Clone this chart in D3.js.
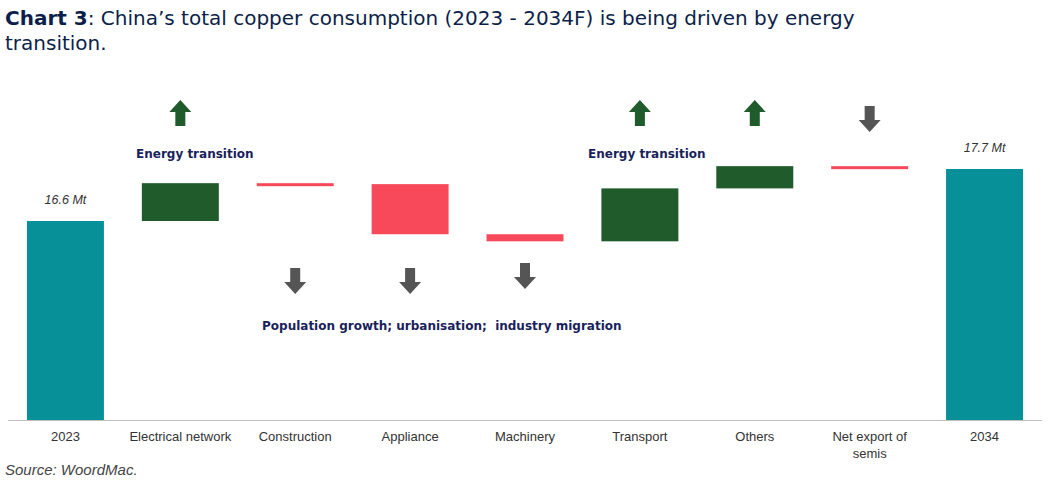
<!DOCTYPE html><html><head><meta charset="utf-8"><script src="https://cdn.jsdelivr.net/npm/d3@7"></script>
<style>body{margin:0;background:#fff;font-family:"Liberation Sans",Arial,sans-serif}</style></head><body>
<svg id="c" width="1056" height="497"></svg>
<script>
const categories=["2023","Electrical network","Construction","Appliance","Machinery","Transport","Others","Net export of semis","2034"];
const changes=[16.6,0.80,-0.02,-1.06,-0.15,1.12,0.47,-0.06,17.7];
const totalLabels=["16.6 Mt","17.7 Mt"];
const arrows=[null,"up",  "down","down","down","up","up","down",null];

const svg=d3.select("#c");
const x=d3.scaleBand().domain(categories).range([8,1042]).paddingInner(0.33).paddingOuter(0.165);
const y=d3.scaleLinear().domain([12.39,17.7]).range([420,169]);
let run=0;const bars=changes.map((v,i)=>{
 if(i===0||i===changes.length-1){run=v;return{c:categories[i],a:y.domain()[0],b:v,col:"#079097",tot:true};}
 const s=run;run+=v;return{c:categories[i],a:s,b:run,col:v>=0?"#1f5b2b":"#f8495a"};});
svg.selectAll("rect.bar").data(bars).join("rect").attr("x",d=>x(d.c)).attr("width",x.bandwidth())
 .attr("y",d=>Math.min(y(d.a),y(d.b))).attr("height",d=>Math.max(3,Math.abs(y(d.a)-y(d.b))))
 .attr("fill",d=>d.col);
svg.append("line").attr("x1",8).attr("x2",1042).attr("y1",420.5).attr("y2",420.5).attr("stroke","#bfbfbf");
svg.selectAll("text.cat").data(categories).join("text").attr("x",d=>x(d)+x.bandwidth()/2).attr("y",441)
 .attr("text-anchor","middle").attr("font-size",13).attr("fill","#333").each(function(d){
  const t=d3.select(this);if(d==="Net export of semis"){t.append("tspan").text("Net export of");t.append("tspan").attr("x",x(d)+x.bandwidth()/2).attr("dy",17).text("semis");}else t.text(d);});
[[0,16.6],[8,17.7]].forEach(([i,v],k)=>svg.append("text").attr("x",x(categories[i])+x.bandwidth()/2).attr("y",y(v)-17)
 .attr("text-anchor","middle").attr("font-size",12.5).attr("font-style","italic").attr("fill","#333").text(totalLabels[k]));
arrows.forEach((a,i)=>{if(!a)return;const cx=x(categories[i])+x.bandwidth()/2;
 if(a==="up"){const t=100;svg.append("path").attr("d",`M${cx},${t}L${cx+11},${t+12}L${cx+5},${t+12}L${cx+5},${t+26}L${cx-5},${t+26}L${cx-5},${t+12}L${cx-11},${t+12}Z`).attr("fill","#1f5b2b");}
 else{const t=i===7?106:(i===4?263:268);svg.append("path").attr("d",`M${cx-5},${t}L${cx+5},${t}L${cx+5},${t+14}L${cx+11},${t+14}L${cx},${t+26}L${cx-11},${t+14}L${cx-5},${t+14}Z`).attr("fill","#555");}});
const ann=[[136,158,"Energy transition"],[588,158,"Energy transition"],[262,330,"Population growth; urbanisation;  industry migration"]];
ann.forEach(a=>svg.append("text").attr("x",a[0]).attr("y",a[1]).attr("font-family","DejaVu Sans").attr("font-size",12).attr("font-weight","bold").attr("fill","#1a1f5c").attr("xml:space","preserve").text(a[2]));
const tt=svg.append("text").attr("x",5).attr("y",25).attr("font-family","DejaVu Sans").attr("font-size",20).attr("fill","#0c1f4a");
tt.append("tspan").attr("font-weight","bold").text("Chart 3");tt.append("tspan").text(": China’s total copper consumption (2023 - 2034F) is being driven by energy");
svg.append("text").attr("x",5).attr("y",50).attr("font-family","DejaVu Sans").attr("font-size",20).attr("fill","#0c1f4a").text("transition.");
svg.append("text").attr("x",5).attr("y",475).attr("font-size",15).attr("font-style","italic").attr("fill","#444").text("Source: WoordMac.");
</script></body></html>
